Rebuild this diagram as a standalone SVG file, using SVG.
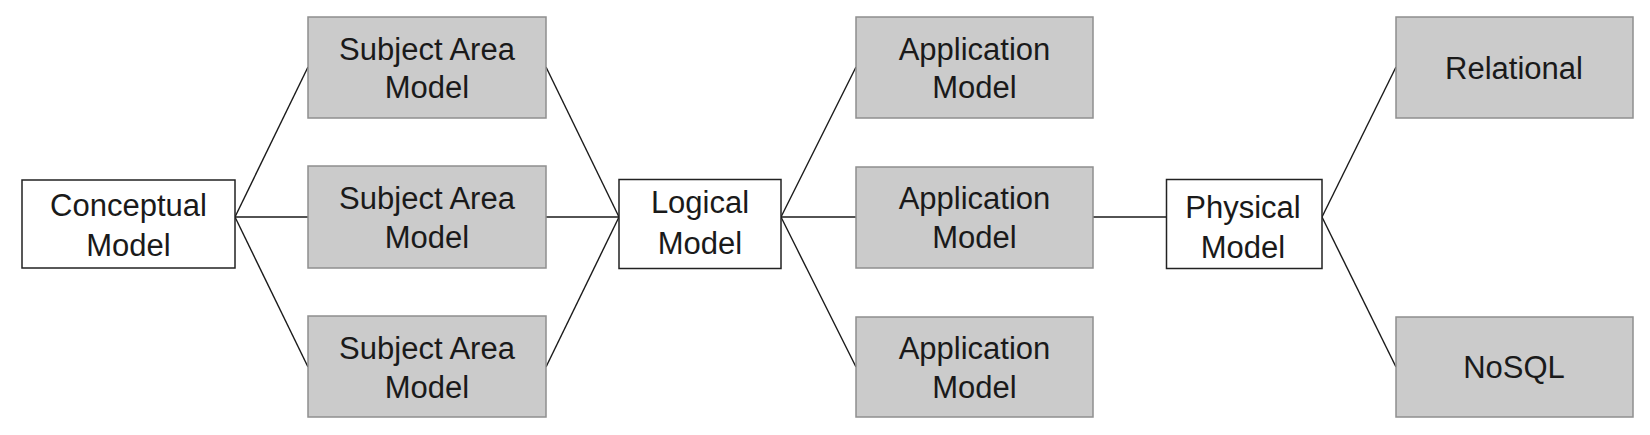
<svg xmlns="http://www.w3.org/2000/svg" width="1650" height="435" viewBox="0 0 1650 435">
<style>
.w{fill:#ffffff;stroke:#222;stroke-width:1.5}
.g{fill:#cbcbcb;stroke:#8f8f8f;stroke-width:1.5}
text{font-family:"Liberation Sans",Arial,sans-serif;font-size:31px;fill:#1a1a1a;text-anchor:middle}
.c line{stroke:#1a1a1a;stroke-width:1.4}
</style>
<rect width="1650" height="435" fill="#ffffff"/>
<g class="c" id="connectors">
<line x1="235" y1="217" x2="308" y2="67"/>
<line x1="235" y1="217" x2="308" y2="217"/>
<line x1="235" y1="217" x2="308" y2="367"/>
<line x1="546" y1="67" x2="619" y2="217"/>
<line x1="546" y1="217" x2="619" y2="217"/>
<line x1="546" y1="367" x2="619" y2="217"/>
<line x1="781" y1="217" x2="856" y2="67"/>
<line x1="781" y1="217" x2="856" y2="217"/>
<line x1="781" y1="217" x2="856" y2="367"/>
<line x1="1093" y1="217" x2="1166.5" y2="217"/>
<line x1="1322" y1="217" x2="1396" y2="67"/>
<line x1="1322" y1="217" x2="1396" y2="367"/>
</g>
<g id="conceptual"><rect class="w" x="22" y="180" width="213" height="88"/><text x="128.5" y="216">Conceptual</text><text x="128.5" y="256">Model</text></g>
<g id="subject1"><rect class="g" x="308" y="17" width="238" height="101"/><text x="427" y="60">Subject Area</text><text x="427" y="98">Model</text></g>
<g id="subject2"><rect class="g" x="308" y="166" width="238" height="102"/><text x="427" y="209">Subject Area</text><text x="427" y="248">Model</text></g>
<g id="subject3"><rect class="g" x="308" y="316" width="238" height="101"/><text x="427" y="359">Subject Area</text><text x="427" y="398">Model</text></g>
<g id="logical"><rect class="w" x="619" y="179.5" width="162" height="89"/><text x="700" y="213">Logical</text><text x="700" y="254">Model</text></g>
<g id="app1"><rect class="g" x="856" y="17" width="237" height="101"/><text x="974.5" y="60">Application</text><text x="974.5" y="98">Model</text></g>
<g id="app2"><rect class="g" x="856" y="167" width="237" height="101"/><text x="974.5" y="209">Application</text><text x="974.5" y="248">Model</text></g>
<g id="app3"><rect class="g" x="856" y="317" width="237" height="100"/><text x="974.5" y="359">Application</text><text x="974.5" y="398">Model</text></g>
<g id="physical"><rect class="w" x="1166.5" y="179.5" width="155.5" height="89"/><text x="1243" y="218">Physical</text><text x="1243" y="258">Model</text></g>
<g id="relational"><rect class="g" x="1396" y="17" width="237" height="101"/><text x="1514" y="79">Relational</text></g>
<g id="nosql"><rect class="g" x="1396" y="317" width="237" height="100"/><text x="1514" y="378">NoSQL</text></g>
</svg>
